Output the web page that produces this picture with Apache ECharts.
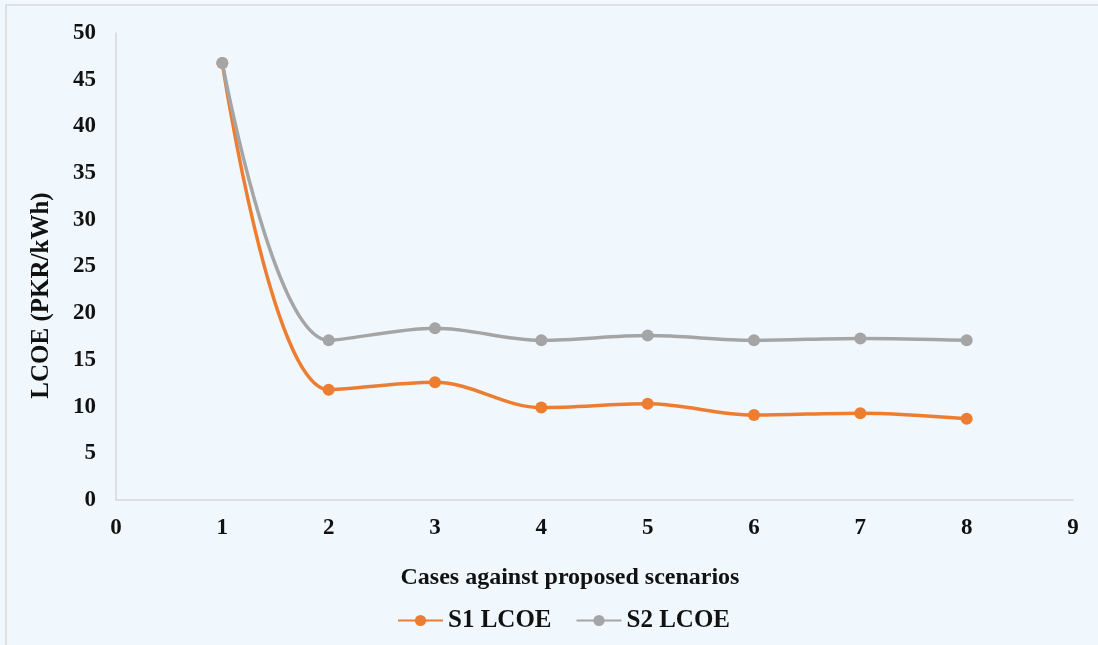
<!DOCTYPE html>
<html>
<head>
<meta charset="utf-8">
<style>
  html, body { margin: 0; padding: 0; background: #f1f8fd; }
  #chart { width: 1098px; height: 645px; }
</style>
<script src="https://cdn.jsdelivr.net/npm/echarts@6/dist/echarts.min.js"></script>
</head>
<body>
<div id="chart"></div>
<script>
// Case numbers and levelised cost of energy (PKR/kWh) per scenario
const cases = [1, 2, 3, 4, 5, 6, 7, 8];
const s1Lcoe = [46.8, 11.8, 12.6, 9.9, 10.3, 9.1, 9.3, 8.7];
const s2Lcoe = [46.8, 17.1, 18.4, 17.1, 17.6, 17.1, 17.3, 17.1];
const seriesNames = ['S1 LCOE', 'S2 LCOE'];
const xTitle = 'Cases against proposed scenarios';
const yTitle = 'LCOE (PKR/kWh)';

const font = '"Liberation Serif", "Times New Roman", serif';
const pair = (xs, ys) => xs.map((x, i) => [x, ys[i]]);

const chart = echarts.init(document.getElementById('chart'));
chart.setOption({
  backgroundColor: '#f1f8fd',
  animation: false,
  graphic: [{
    type: 'rect',
    shape: { x: 6, y: 5, width: 1200, height: 700 },
    style: { fill: 'none', stroke: '#d6d9dc', lineWidth: 1.5 },
    silent: true
  }],
  title: {
    text: xTitle,
    left: 565,
    top: 561,
    textAlign: 'center',
    textStyle: { fontFamily: font, fontWeight: 'bold', fontSize: 24, color: '#111' }
  },
  legend: {
    left: 392,
    top: 603,
    itemWidth: 45,
    itemHeight: 14,
    itemGap: 24,
    textStyle: { fontFamily: font, fontWeight: 'bold', fontSize: 25, color: '#111' },
    data: seriesNames
  },
  grid: { left: 116, right: 25, top: 33, bottom: 145, containLabel: false },
  xAxis: {
    type: 'value',
    min: 0, max: 9, interval: 1,
    axisLine: { lineStyle: { color: '#d3d6d9', width: 1.5 } },
    axisTick: { show: false },
    splitLine: { show: false },
    axisLabel: { margin: 17, fontFamily: font, fontWeight: 'bold', fontSize: 23, color: '#111' }
  },
  yAxis: {
    type: 'value',
    min: 0, max: 50, interval: 5,
    name: yTitle,
    nameLocation: 'middle',
    nameGap: 62,
    nameTextStyle: { fontFamily: font, fontWeight: 'bold', fontSize: 25, color: '#111', padding: [0, 58, 0, 0] },
    axisLine: { show: true, lineStyle: { color: '#d3d6d9', width: 1.5 } },
    axisTick: { show: false },
    splitLine: { show: false },
    axisLabel: { margin: 20, fontFamily: font, fontWeight: 'bold', fontSize: 23, color: '#111' }
  },
  series: [
    {
      name: seriesNames[0],
      type: 'line',
      data: pair(cases, s1Lcoe),
      smooth: 0.35,
      symbol: 'circle',
      symbolSize: 12,
      itemStyle: { color: '#ed7d31' },
      lineStyle: { color: '#ed7d31', width: 3.5 },
      z: 3
    },
    {
      name: seriesNames[1],
      type: 'line',
      data: pair(cases, s2Lcoe),
      smooth: 0.35,
      symbol: 'circle',
      symbolSize: 12,
      itemStyle: { color: '#a5a5a5' },
      lineStyle: { color: '#a5a5a5', width: 3.5 },
      z: 4
    }
  ]
});
</script>
</body>
</html>
